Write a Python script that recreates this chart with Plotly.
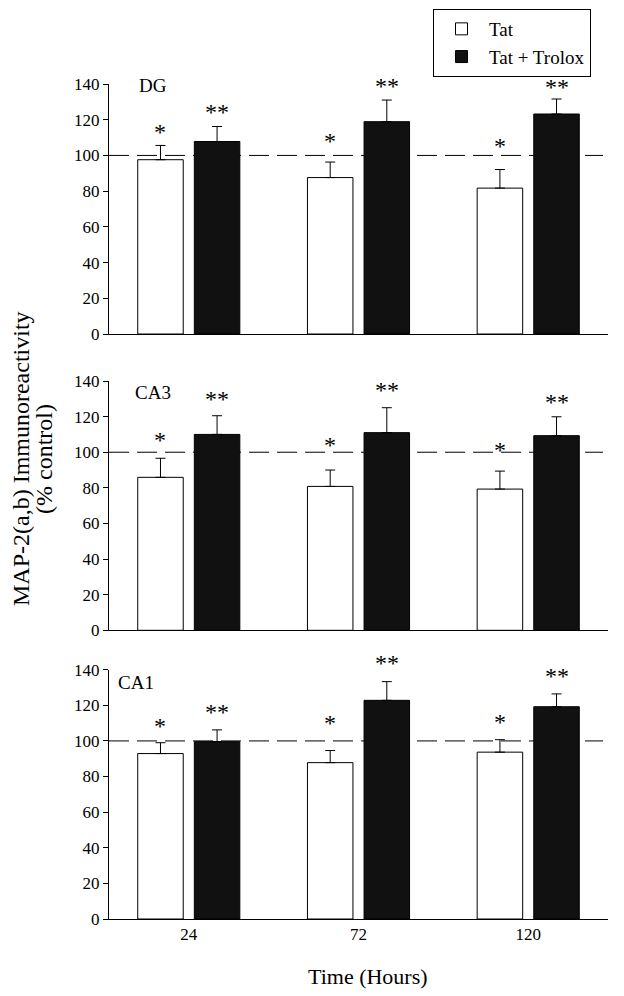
import plotly.graph_objects as go

# ---------------- data ----------------
hours = ["24", "72", "120"]
series_names = ["Tat", "Tat + Trolox"]
regions = ["DG", "CA3", "CA1"]

dg_tat = [97.6, 87.6, 81.7]
dg_tat_err = [8.0, 8.7, 10.4]
dg_trolox = [107.8, 118.9, 123.2]
dg_trolox_err = [8.4, 12.1, 8.4]

ca3_tat = [85.9, 80.8, 79.3]
ca3_tat_err = [10.7, 9.2, 10.1]
ca3_trolox = [110.0, 111.0, 109.3]
ca3_trolox_err = [10.5, 14.0, 10.6]

ca1_tat = [92.9, 87.8, 93.7]
ca1_tat_err = [6.1, 6.8, 7.0]
ca1_trolox = [99.6, 122.8, 119.2]
ca1_trolox_err = [6.6, 10.5, 7.2]

# significance marker positions (glyph centre, in axis units)
dg_tat_star_y = [114.0, 109.3, 106.4]
dg_trolox_star_y = [125.6, 140.2, 139.6]
ca3_tat_star_y = [107.8, 105.0, 102.2]
ca3_trolox_star_y = [130.8, 135.9, 129.3]
ca1_tat_star_y = [109.4, 111.4, 111.8]
ca1_trolox_star_y = [117.4, 144.8, 137.4]

control_level = 100
y_max = 140
y_ticks = [0, 20, 40, 60, 80, 100, 120, 140]

panels = [
    (dg_tat, dg_tat_err, dg_trolox, dg_trolox_err, dg_tat_star_y, dg_trolox_star_y),
    (ca3_tat, ca3_tat_err, ca3_trolox, ca3_trolox_err, ca3_tat_star_y, ca3_trolox_star_y),
    (ca1_tat, ca1_tat_err, ca1_trolox, ca1_trolox_err, ca1_tat_star_y, ca1_trolox_star_y),
]

# ---------------- layout geometry ----------------
W, H = 624, 996
L, R, T, B = 109, 16, 84, 77
plot_h = H - T - B
# panel pixel extents (top, bottom) in page coords
panel_px = [(84.0, 334.0), (381.0, 630.3), (669.7, 919.0)]
label_pos = [(136.7, 85.7), (132.7, 392.7), (116.0, 682.7)]

FONT = "Liberation Serif"
fill_colors = ["white", "#111111"]

fig = go.Figure()
annotations = []
shapes = []
layout_axes = {}

bottom_px = H - B

def to_paper_y(py):
    return (bottom_px - py) / plot_h

def clamp(v):
    return min(1.0, max(0.0, v))

group_off = 1.0 / 6.0

for i, (tat, tat_e, trol, trol_e, tat_s, trol_s) in enumerate(panels):
    n = i + 1
    xa = "x" if n == 1 else f"x{n}"
    ya = "y" if n == 1 else f"y{n}"
    for j, (vals, errs) in enumerate([(tat, tat_e), (trol, trol_e)]):
        fig.add_trace(go.Bar(
            x=hours, y=vals, name=series_names[j],
            marker=dict(color=fill_colors[j], line=dict(color="black", width=1)),
            error_y=dict(type="data", array=errs, arrayminus=[0] * len(errs),
                         symmetric=False, color="black", thickness=1, width=5),
            xaxis=xa, yaxis=ya, showlegend=(n == 1), legendgroup=series_names[j],
        ))
    top_px, bot_px = panel_px[i]
    dom = [clamp(to_paper_y(bot_px)), clamp(to_paper_y(top_px))]
    xkey = "xaxis" if n == 1 else f"xaxis{n}"
    ykey = "yaxis" if n == 1 else f"yaxis{n}"
    layout_axes[xkey] = dict(
        domain=[0, 1], anchor=ya, type="category", range=[-0.47, 2.47],
        showline=True, linecolor="black", linewidth=1, ticks="",
        showticklabels=(n == 3), showgrid=False, zeroline=False,
        tickfont=dict(family=FONT, size=17, color="black"),
    )
    layout_axes[ykey] = dict(
        domain=dom, anchor=xa, range=[0, y_max], tickvals=y_ticks,
        showline=True, linecolor="black", linewidth=1, ticks="outside",
        ticklen=5, tickcolor="black", tickwidth=1, showgrid=False, zeroline=False,
        tickfont=dict(family=FONT, size=17, color="black"),
    )
    # dashed control line
    shapes.append(dict(type="line", xref=f"{xa} domain", yref=ya, x0=0, x1=0.99,
                       y0=control_level, y1=control_level, layer="below",
                       line=dict(color="black", width=1, dash="20px,8px")))
    # panel label
    lx, ly = label_pos[i]
    annotations.append(dict(text=regions[i], xref=f"{xa} domain", yref=f"{ya} domain",
                            x=(lx - L) / (W - L - R),
                            y=(bot_px - ly) / (bot_px - top_px),
                            xanchor="left", yanchor="middle", showarrow=False,
                            font=dict(family=FONT, size=19, color="black")))
    # significance markers
    for k in range(len(hours)):
        for stars, sy, off in [("*", tat_s[k], -group_off), ("**", trol_s[k], group_off)]:
            annotations.append(dict(text=stars, xref=xa, yref=f"{ya} domain",
                                    x=k + off, y=sy / y_max,
                                    xanchor="center", yanchor="middle", showarrow=False,
                                    yshift=-2,
                                    font=dict(family=FONT, size=24, color="black")))

# axis titles
annotations.append(dict(text="MAP-2(a,b) Immunoreactivity", xref="paper", yref="paper",
                        x=(21 - L) / (W - L - R), y=to_paper_y(459), textangle=-90,
                        xanchor="center", yanchor="middle", showarrow=False,
                        font=dict(family=FONT, size=24, color="black")))
annotations.append(dict(text="(% control)", xref="paper", yref="paper",
                        x=(44 - L) / (W - L - R), y=to_paper_y(459), textangle=-90,
                        xanchor="center", yanchor="middle", showarrow=False,
                        font=dict(family=FONT, size=24, color="black")))
annotations.append(dict(text="Time (Hours)", xref="paper", yref="paper",
                        x=(368 - L) / (W - L - R), y=to_paper_y(976),
                        xanchor="center", yanchor="middle", showarrow=False,
                        font=dict(family=FONT, size=22, color="black")))

fig.update_layout(
    width=W, height=H,
    margin=dict(l=L, r=R, t=T, b=B, autoexpand=False),
    paper_bgcolor="white", plot_bgcolor="white",
    barmode="group", bargap=0.333, bargroupgap=0.196,
    font=dict(family=FONT, color="black"),
    showlegend=True,
    legend=dict(xref="container", yref="container", x=433 / W, y=1 - 9.0 / H,
                xanchor="left", yanchor="top", bgcolor="white",
                bordercolor="black", borderwidth=1, itemwidth=45,
                font=dict(family=FONT, size=19, color="black"),
                tracegroupgap=0),
    annotations=annotations, shapes=shapes,
    **layout_axes,
)

fig.write_html("out.html", config={"displayModeBar": False},
               post_script="document.body.style.margin='0px';")
